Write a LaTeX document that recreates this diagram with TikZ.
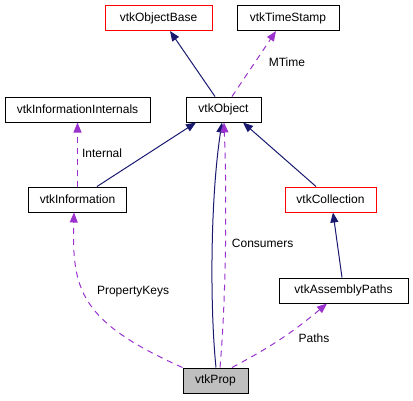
\documentclass[tikz,border=0pt]{standalone}
\usepackage{fontspec}
\setmainfont{Liberation Sans}
\usetikzlibrary{arrows.meta, calc}
\definecolor{edgeNavy}{HTML}{191970}
\definecolor{edgePurple}{HTML}{9A32CD}
\definecolor{boxRed}{HTML}{FF0000}
\definecolor{propGray}{HTML}{BFBFBF}

\begin{document}
\begin{tikzpicture}[x=1pt, y=-1pt,
        cls/.style={draw=black, line width=1pt, minimum height=25pt, inner sep=0pt, font=\fontsize{12}{14}\selectfont},
        inh/.style={-{Triangle[length=10pt,width=8pt]}, edgeNavy, line width=1pt},
        use/.style={-{Triangle[length=10pt,width=8pt]}, edgePurple, line width=1pt, dash pattern=on 6pt off 5pt},
        lbl/.style={anchor=west, inner sep=0pt, font=\fontsize{12}{14}\selectfont, text=black}]
        \useasboundingbox (0,0) rectangle (413,400);

        % クラスの箱
        \node[cls, draw=boxRed, minimum width=107pt] (base) at (158.5,18) {vtkObjectBase};
        \node[cls, minimum width=102pt] (stamp) at (288,18) {vtkTimeStamp};
        \node[cls, minimum width=145pt] (intern) at (77.5,109.5) {vtkInformationInternals};
        \node[cls, minimum width=75pt] (obj) at (223.5,109.5) {vtkObject};
        \node[cls, minimum width=98pt] (info) at (77.5,199.5) {vtkInformation};
        \node[cls, draw=boxRed, minimum width=91pt] (coll) at (330.5,199.5) {vtkCollection};
        \node[cls, minimum width=129pt] (paths) at (343.5,290.5) {vtkAssemblyPaths};
        \node[cls, fill=propGray, minimum width=65pt] (prop) at (215.5,380.5) {vtkProp};

        % 継承(実線)
        \draw[inh] ([xshift=-8.5pt]obj.north) -- ([xshift=11.5pt]base.south);
        \draw[inh] ([xshift=19.5pt]info.north) -- ([xshift=-27.5pt]obj.south);
        \draw[inh] ([xshift=-14.5pt]coll.north) -- ([xshift=19.5pt]obj.south);
        \draw[inh] ([xshift=0.5pt]prop.north) .. controls +(-6,-58) and +(-12,78) .. ([xshift=-1.5pt]obj.south);
        \draw[inh] ([xshift=-1.5pt]paths.north) -- ([xshift=2.5pt]coll.south);

        % メンバ(破線)
        \draw[use] ([xshift=8.5pt]obj.north) -- ([xshift=-12pt]stamp.south) node[lbl, pos=0.53, xshift=13pt] (lblMTime) {MTime};
        \draw[use] (info.north) -- (intern.south) node[lbl, pos=0.52, xshift=4pt] (lblInternal) {Internal};
        \draw[use] ([xshift=4.5pt]prop.north) .. controls +(6,-68) and +(3,78) .. ([xshift=0.5pt]obj.south) node[lbl, pos=0.52, xshift=6pt] (lblConsumers) {Consumers};
        \draw[use] ([xshift=16.5pt]prop.north) to[bend right=6] node[lbl, pos=0.52, xshift=15pt, yshift=-1pt] (lblPaths) {Paths} ([xshift=-16.5pt]paths.south);
        \draw[use] (prop.north west) .. controls +(-103,-46) and +(-2,77) .. ([xshift=-3.5pt]info.south) node[lbl, pos=0.57, xshift=13pt] (lblKeys) {PropertyKeys};
    \end{tikzpicture}
\end{document}
